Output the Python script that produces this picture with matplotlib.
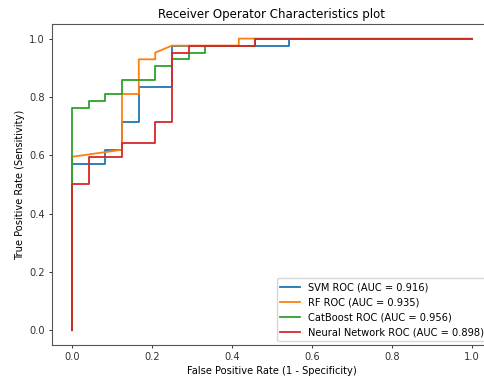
import numpy as np
import matplotlib.pyplot as plt

# ROC curve points
svm_fpr = [0, 0, 0.083, 0.083, 0.125, 0.125, 0.167, 0.167, 0.25, 0.25, 0.542, 0.542, 1.0]
svm_tpr = [0, 0.571, 0.571, 0.619, 0.619, 0.714, 0.714, 0.833, 0.833, 0.976, 0.976, 1.0, 1.0]

rf_fpr = [0, 0, 0.125, 0.125, 0.167, 0.167, 0.208, 0.208, 0.25, 0.417, 0.417, 1.0]
rf_tpr = [0, 0.595, 0.619, 0.810, 0.810, 0.929, 0.929, 0.952, 0.976, 0.976, 1.0, 1.0]

cat_fpr = [0, 0, 0.042, 0.042, 0.083, 0.083, 0.125, 0.125, 0.208, 0.208, 0.25, 0.25,
           0.292, 0.292, 0.333, 0.333, 0.458, 0.458, 1.0]
cat_tpr = [0, 0.762, 0.762, 0.786, 0.786, 0.810, 0.810, 0.857, 0.857, 0.905, 0.905, 0.929,
           0.929, 0.952, 0.952, 0.976, 0.976, 1.0, 1.0]

nn_fpr = [0, 0, 0.042, 0.042, 0.125, 0.125, 0.208, 0.208, 0.25, 0.25, 0.292, 0.292, 0.458, 0.458, 1.0]
nn_tpr = [0, 0.5, 0.5, 0.595, 0.595, 0.643, 0.643, 0.714, 0.714, 0.952, 0.952, 0.976, 0.976, 1.0, 1.0]

auc = {'SVM': 0.916, 'RF': 0.935, 'CatBoost': 0.956, 'Neural Network': 0.898}

fs = 7.1
fig = plt.figure(figsize=(4.84, 3.78), dpi=100)
ax = fig.add_axes([52 / 484, 33 / 378, 440 / 484, 321 / 378])

lw = 1.3
ax.plot(svm_fpr, svm_tpr, lw=lw, label='SVM ROC (AUC = %0.3f)' % auc['SVM'])
ax.plot(rf_fpr, rf_tpr, lw=lw, label='RF ROC (AUC = %0.3f)' % auc['RF'])
ax.plot(cat_fpr, cat_tpr, lw=lw, label='CatBoost ROC (AUC = %0.3f)' % auc['CatBoost'])
ax.plot(nn_fpr, nn_tpr, lw=lw, label='Neural Network ROC (AUC = %0.3f)' % auc['Neural Network'])

ax.set_xticks(np.arange(0, 1.01, 0.2))
ax.set_yticks(np.arange(0, 1.01, 0.2))
ax.tick_params(labelsize=fs, width=0.7, length=2.5, pad=2.5, colors='#333333')
for s in ax.spines.values():
    s.set_linewidth(0.8)
    s.set_color('#555555')
ax.set_title('Receiver Operator Characteristics plot', fontsize=8.5, pad=4.5)
ax.set_xlabel('False Positive Rate (1 - Specificity)', fontsize=fs, labelpad=2.8)
ax.set_ylabel('True Positive Rate (Sensitivity)', fontsize=fs, labelpad=2.8)
ax.legend(loc='lower right', fontsize=fs, borderaxespad=0.4, handlelength=2.0)

fig.savefig('out.png', dpi=100)
